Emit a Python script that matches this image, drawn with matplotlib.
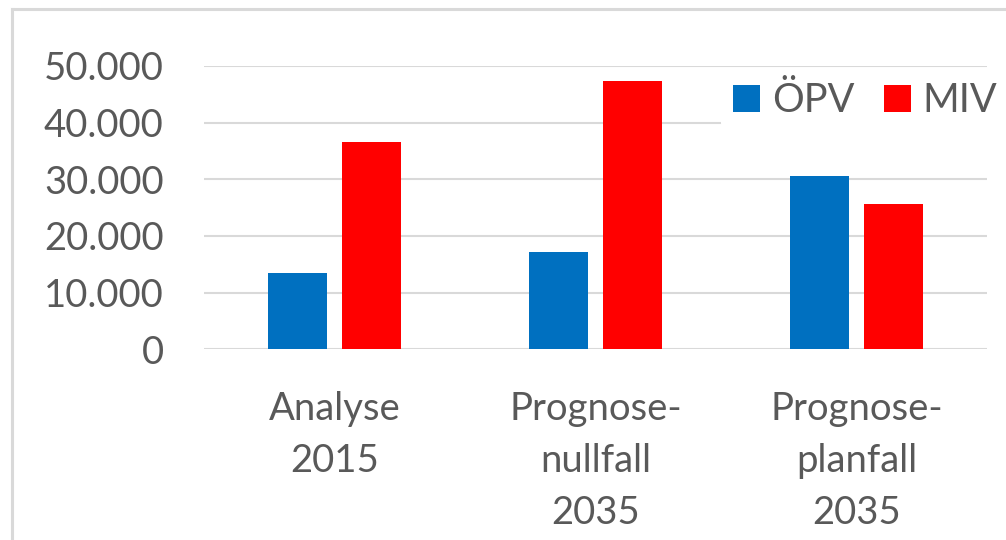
import matplotlib
matplotlib.use("Agg")
import matplotlib.pyplot as plt
from matplotlib.lines import Line2D
from matplotlib.patches import Patch
import numpy as np

categories = ["Analyse\n2015", "Prognose-\nnullfall\n2035", "Prognose-\nplanfall\n2035"]
series_names = ["ÖPV", "MIV"]
opv = [13500, 17100, 30500]
miv = [36500, 47300, 25600]
yticks = [0, 10000, 20000, 30000, 40000, 50000]
ytick_labels = ["0", "10.000", "20.000", "30.000", "40.000", "50.000"]

BLUE = "#0070C0"
RED = "#FF0000"
TXT = "#595959"
GRID = "#D9D9D9"

plt.rcParams['font.family'] = ['Lato', 'DejaVu Sans']

W, H = 1006, 540
fig = plt.figure(figsize=(W / 100, H / 100), dpi=100)
fig.patch.set_facecolor("white")

left, right, bottom, top = 204, 987, 349.3, 65.8
ax = fig.add_axes([left / W, 1 - bottom / H, (right - left) / W, (bottom - top) / H])

x = np.arange(len(categories))
bw = 0.226
off = 0.1435
ax.bar(x - off, opv, width=bw, color=BLUE, zorder=3)
ax.bar(x + off, miv, width=bw, color=RED, zorder=3)

ax.set_xlim(-0.5, len(categories) - 0.5)
ax.set_ylim(0, 50000)
ax.set_yticks(yticks)
ax.set_yticklabels(ytick_labels)
ax.set_xticks(x)
ax.set_xticklabels(categories, linespacing=1.56)
ax.tick_params(axis="y", length=0, pad=29, labelsize=27.5, labelcolor=TXT)
ax.tick_params(axis="x", length=0, pad=30, labelsize=27.5, labelcolor=TXT)
ax.grid(axis="y", color=GRID, linewidth=1.5, zorder=0)
for s in ax.spines.values():
    s.set_visible(False)
ax.set_facecolor("none")

handles = [Patch(facecolor=BLUE, edgecolor="none"), Patch(facecolor=RED, edgecolor="none")]
leg = fig.legend(handles, series_names, loc="center left",
                 bbox_to_anchor=(721 / W, 1 - 100.7 / H),
                 ncol=2, frameon=True, fontsize=28.5, labelcolor=TXT,
                 handlelength=0.68, handleheight=0.68, handletextpad=0.3,
                 columnspacing=0.75, borderpad=0.3, borderaxespad=0)
leg.get_frame().set_facecolor("white")
leg.get_frame().set_edgecolor("none")
leg.get_frame().set_alpha(1)
leg.set_zorder(5)

# outer chart border (light gray)
fig.add_artist(Line2D([12 / W, 12 / W], [0, 1 - 9.3 / H], color=GRID, linewidth=2.2))
fig.add_artist(Line2D([12 / W, 1], [1 - 9.3 / H, 1 - 9.3 / H], color=GRID, linewidth=2.2))

fig.savefig("out.png", dpi=100, facecolor="white")
